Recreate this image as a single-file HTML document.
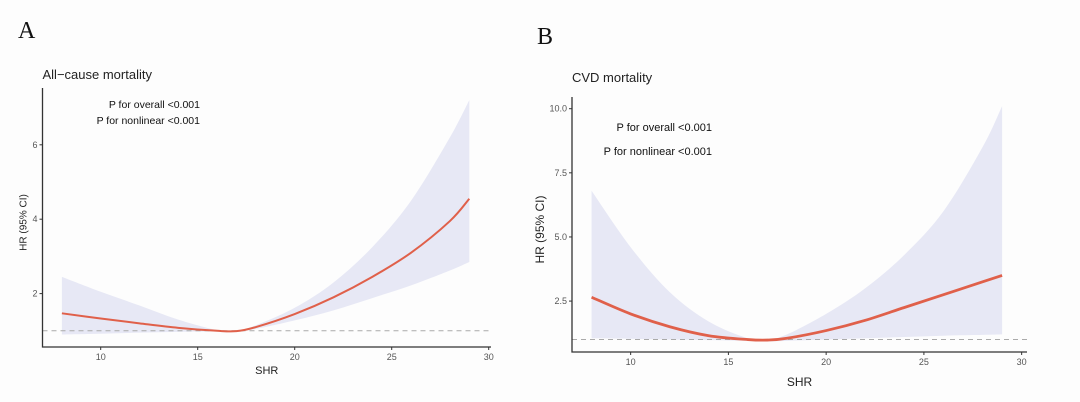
<!DOCTYPE html>
<html><head><meta charset="utf-8"><style>
body{margin:0;background:#fff;}
svg{display:block;font-family:"Liberation Sans",sans-serif;}
</style></head><body>
<svg id="c" width="1080" height="402" viewBox="0 0 1080 402">
<rect x="0" y="0" width="1080" height="402" fill="#fdfdfd"/>
<text x="18" y="38" font-family="Liberation Serif,serif" font-size="24" fill="#111">A</text>
<text x="537" y="44" font-family="Liberation Serif,serif" font-size="24" fill="#111">B</text>
</svg>
<script>
const xsA=[8,10,12,14,16,17,18,20,22,24,26,28,29];
const hrA=[1.47,1.33,1.2,1.08,1.0,0.99,1.1,1.45,1.9,2.45,3.1,3.95,4.55];
const loA=[0.9,0.92,0.95,0.97,0.98,0.97,1.05,1.28,1.55,1.88,2.22,2.62,2.85];
const upA=[2.45,2.05,1.68,1.3,1.02,1.0,1.15,1.62,2.3,3.25,4.5,6.2,7.2];
const xsB=[8,10,12,14,16,17,18,20,22,24,26,28,29];
const hrB=[2.65,2.0,1.5,1.15,1.0,0.98,1.05,1.35,1.75,2.25,2.75,3.25,3.5];
const loB=[1.05,1.03,1.0,0.98,0.95,0.93,0.95,1.0,1.05,1.1,1.15,1.18,1.2];
const upB=[6.8,4.6,2.85,1.7,1.05,1.0,1.2,2.0,3.0,4.3,6.0,8.5,10.1];
const xTicks=[10,15,20,25,30];
const yTicksA=[2,4,6];
const yTicksBv=[2.5,5.0,7.5,10.0];
const yTicksBl=["2.5","5.0","7.5","10.0"];
const NS="http://www.w3.org/2000/svg";
const svg=document.getElementById('c');
function mk(t,a,txt){const e=document.createElementNS(NS,t);for(const k in a)e.setAttribute(k,a[k]);if(txt!=null)e.textContent=txt;svg.appendChild(e);return e;}
function spline(pts,start){
 let d=start?('M'+pts[0][0]+','+pts[0][1]):('L'+pts[0][0]+','+pts[0][1]);
 for(let i=0;i<pts.length-1;i++){
  const p0=pts[Math.max(i-1,0)],p1=pts[i],p2=pts[i+1],p3=pts[Math.min(i+2,pts.length-1)];
  const c1=[p1[0]+(p2[0]-p0[0])/6,p1[1]+(p2[1]-p0[1])/6];
  const c2=[p2[0]-(p3[0]-p1[0])/6,p2[1]-(p3[1]-p1[1])/6];
  d+=`C${c1[0]},${c1[1]} ${c2[0]},${c2[1]} ${p2[0]},${p2[1]}`;
 }
 return d;
}
function panel(o){
 const X=v=>o.x0+(v-7)*o.sx, Y=v=>o.y0-v*o.sy;
 const upP=o.xs.map((x,i)=>[X(x),Y(o.up[i])]);
 const loP=o.xs.map((x,i)=>[X(x),Y(o.lo[i])]).reverse();
 let band=mk('path',{d:spline(upP,true)+spline(loP,false)+'Z',fill:'#e7e8f5'});
 
 
 let ref=mk('line',{x1:o.x0,x2:o.xEnd,y1:Y(1),y2:Y(1),stroke:'#aaa','stroke-dasharray':'5,4','stroke-width':1});
 
 
 let ln=mk('path',{d:spline(o.xs.map((x,i)=>[X(x),Y(o.hr[i])]),true),fill:'none',stroke:'#e0604a','stroke-width':o.lw,'stroke-linejoin':'round'});
 
 
 let ax=mk('path',{d:`M${o.x0},${o.top}V${o.axY}H${o.xEnd}`,fill:'none',stroke:'#333','stroke-width':1.3});
 
 
 xTicks.forEach(t=>{mk('line',{x1:X(t),x2:X(t),y1:o.axY,y2:o.axY+3,stroke:'#333'});
  let tl=mk('text',{x:X(t),y:o.axY+13,'font-size':9,fill:'#555','text-anchor':'middle'},t);
  
  });
 o.yt.forEach((t,i)=>{mk('line',{x1:o.x0-3,x2:o.x0,y1:Y(t),y2:Y(t),stroke:'#333'});
  let tl=mk('text',{x:o.x0-5,y:Y(t)+3,'font-size':9,fill:'#555','text-anchor':'end'},o.yl[i]);
  
  });
 let xt=mk('text',{x:(o.x0+o.xEnd)/2,y:o.axY+o.xtOff,'font-size':o.xtf,fill:'#222','text-anchor':'middle'},'SHR');
 
 
 let yt=mk('text',{x:0,y:0,'font-size':o.ytf,fill:'#222','text-anchor':'middle',transform:`translate(${o.x0-o.ytOff},${(o.top+o.axY)/2+5}) rotate(-90)`},'HR (95% CI)');
 
 
 let tt=mk('text',{x:o.x0,y:o.titleY,'font-size':13,fill:'#222'},o.title);
 
 
 o.ann.forEach((s,i)=>{let a=mk('text',{x:o.annX,y:o.annY+i*o.annDy,'font-size':o.annF,fill:'#111','text-anchor':'end'},s);
  
  });
}
panel({p:'panel-a',xs:xsA,hr:hrA,lo:loA,up:upA,x0:42.5,sx:19.4,y0:368,sy:37.2,xEnd:491,top:88,axY:347,yt:yTicksA,yl:yTicksA.map(String),
 title:'All\u2212cause mortality',titleY:79,ann:['P for overall <0.001','P for nonlinear <0.001'],annX:200,annY:108,annDy:16,annF:10.5,lw:2,ytf:10,ytOff:16,xtOff:27,xtf:11});
panel({p:'panel-b',xs:xsB,hr:hrB,lo:loB,up:upB,x0:572,sx:19.55,y0:365.2,sy:25.65,xEnd:1027,top:97,axY:352,yt:yTicksBv,yl:yTicksBl,
 title:'CVD mortality',titleY:82,ann:['P for overall <0.001','P for nonlinear <0.001'],annX:712,annY:131,annDy:24,annF:11,lw:2.8,ytf:12,ytOff:28,xtOff:34,xtf:12});
</script>
</body></html>
